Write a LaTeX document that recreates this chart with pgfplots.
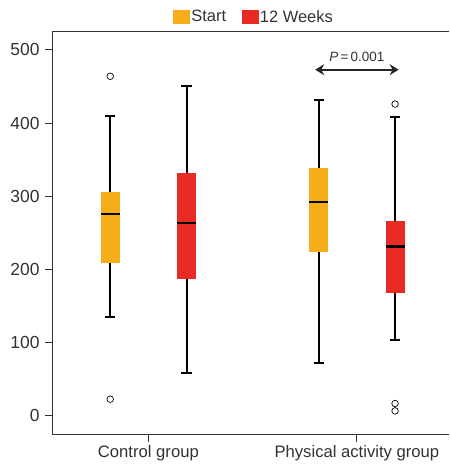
\documentclass[border=0pt]{standalone}
\usepackage{fontspec}
\setmainfont{Liberation Sans}
\usepackage{pgfplots}
\pgfplotsset{compat=1.18}
\usepgfplotslibrary{statistics}
\usetikzlibrary{arrows.meta}
\definecolor{StartOrange}{RGB}{247,172,26}
\definecolor{WeekRed}{RGB}{234,43,35}
\definecolor{AxisGray}{RGB}{50,50,50}
\pgfplotsset{
  gbox/.style={forget plot, mark=o, mark size=3.3pt,
    mark options={black, line width=0.7pt, fill=white},
    boxplot/every box/.style={draw=none, fill=#1},
    boxplot/every whisker/.style={black, line width=2pt},
    boxplot/every median/.style={draw=black, line width=2.2pt}},
}
\begin{document}
\begin{tikzpicture}
  \begin{axis}[
    scale only axis, width=397bp, height=403bp,
    xmin=0.538, xmax=2.443, ymin=-27, ymax=525,
    axis x line=bottom, axis y line=left,
    axis line style={-, AxisGray, line width=1pt},
    xtick={1,2}, xticklabels={Control group, Physical activity group},
    ytick={0,100,...,500},
    tick align=outside, major tick length=7pt,
    tick style={AxisGray, line width=1pt},
    xticklabel style={font=\fontsize{16.7}{19}\selectfont, text=AxisGray},
    yticklabel style={font=\fontsize{17.5}{20}\selectfont, text=AxisGray, xshift=-2pt},
    /pgf/number format/assume math mode=true,
    legend style={draw=none, fill=none, at={(0.5,1)}, anchor=south,
      yshift=4pt, xshift=3pt, font=\fontsize{16.5}{19}\selectfont, text=AxisGray,
      nodes={inner xsep=1.5pt, inner ysep=2pt},
      /tikz/every even column/.append style={column sep=14pt}},
    legend columns=2,
    boxplot/draw direction=y,
    boxplot/box extend=0.091,
    boxplot/whisker extend=0.05,
  ]
    % top frame line
    \draw[AxisGray, line width=1pt] (rel axis cs:0,1) -- (rel axis cs:1,1);

    \addlegendimage{legend image code/.code={\fill[StartOrange] (0pt,-6.3pt) rectangle (16.5pt,6.3pt);}}
    \addlegendentry{Start}
    \addlegendimage{legend image code/.code={\fill[WeekRed] (0pt,-6.3pt) rectangle (16.5pt,6.3pt);}}
    \addlegendentry{12 Weeks}

    % Control group, start
    \addplot[gbox=StartOrange,
      boxplot prepared={draw position=0.817, lower whisker=135,
        lower quartile=208, median=276, upper quartile=305, upper whisker=410}]
      coordinates {(0,464) (0,22)};
    % Control group, 12 weeks
    \addplot[gbox=WeekRed,
      boxplot prepared={draw position=1.183, lower whisker=58,
        lower quartile=187, median=263, upper quartile=332, upper whisker=451}]
      coordinates {};
    % Physical activity group, start
    \addplot[gbox=StartOrange,
      boxplot prepared={draw position=1.817, lower whisker=72,
        lower quartile=224, median=292, upper quartile=339, upper whisker=432}]
      coordinates {};
    % Physical activity group, 12 weeks
    \addplot[gbox=WeekRed,
      boxplot prepared={draw position=2.183, lower whisker=103,
        lower quartile=168, median=231, upper quartile=266, upper whisker=408}]
      coordinates {(0,426) (0,16) (0,6)};

    % significance arrow
    \draw[{Stealth[length=9pt,width=11pt]}-{Stealth[length=9pt,width=11pt]},
      line width=2pt, black!85] (axis cs:1.80,473) -- (axis cs:2.20,473);
    \node[font=\fontsize{13.5}{16}\selectfont, text=AxisGray]
      at (axis cs:2.0,491) {\textit{P}\,=\,0.001};
  \end{axis}
  % fix the page to the reference's margins
  \path (current axis.south west) ++(-52bp,-31bp) coordinate (bl);
  \path (current axis.north east) ++(0bp,31.7bp) coordinate (tr);
  \pgfresetboundingbox
  \path (bl) rectangle (tr);
\end{tikzpicture}
\end{document}
